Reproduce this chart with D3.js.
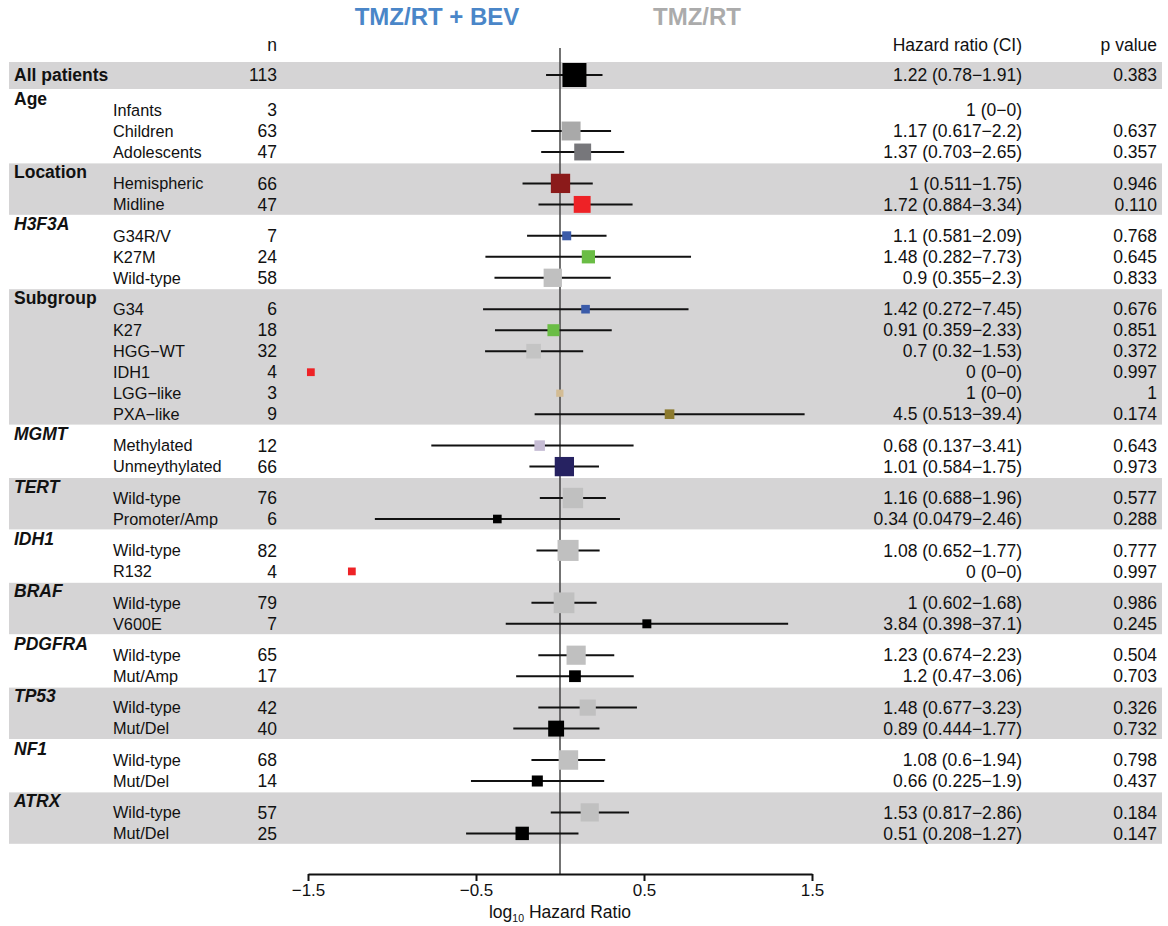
<!DOCTYPE html>
<html lang="en">
<head>
<meta charset="utf-8" />
<title>Forest plot</title>
<script src="https://d3js.org/d3.v7.min.js"></script>
<style>
  body { margin: 0; background: #fff; }
  text { font-family: "Liberation Sans", Arial, sans-serif; fill: #111; }
</style>
</head>
<body>
<div id="chart"></div>
<script>
// group headers, top to bottom
const groups = ["All patients", "Age", "Location", "H3F3A", "Subgroup", "MGMT", "TERT",
  "IDH1", "BRAF", "PDGFRA", "TP53", "NF1", "ATRX"];
const geneGroups = ["H3F3A", "MGMT", "TERT", "IDH1", "BRAF", "PDGFRA", "TP53", "NF1", "ATRX"];

// one entry per row
const rowGroup = ["All patients", "Age", "Age", "Age", "Location", "Location",
  "H3F3A", "H3F3A", "H3F3A", "Subgroup", "Subgroup", "Subgroup", "Subgroup", "Subgroup", "Subgroup",
  "MGMT", "MGMT", "TERT", "TERT", "IDH1", "IDH1", "BRAF", "BRAF", "PDGFRA", "PDGFRA",
  "TP53", "TP53", "NF1", "NF1", "ATRX", "ATRX"];
const rowLabels = ["", "Infants", "Children", "Adolescents", "Hemispheric", "Midline",
  "G34R/V", "K27M", "Wild-type", "G34", "K27", "HGG\u2212WT", "IDH1", "LGG\u2212like", "PXA\u2212like",
  "Methylated", "Unmeythylated", "Wild-type", "Promoter/Amp", "Wild-type", "R132",
  "Wild-type", "V600E", "Wild-type", "Mut/Amp", "Wild-type", "Mut/Del", "Wild-type", "Mut/Del",
  "Wild-type", "Mut/Del"];
const nValues = [113, 3, 63, 47, 66, 47, 7, 24, 58, 6, 18, 32, 4, 3, 9, 12, 66, 76, 6, 82, 4,
  79, 7, 65, 17, 42, 40, 68, 14, 57, 25];
const hrLabels = ["1.22 (0.78\u22121.91)", "1 (0\u22120)", "1.17 (0.617\u22122.2)", "1.37 (0.703\u22122.65)",
  "1 (0.511\u22121.75)", "1.72 (0.884\u22123.34)", "1.1 (0.581\u22122.09)", "1.48 (0.282\u22127.73)",
  "0.9 (0.355\u22122.3)", "1.42 (0.272\u22127.45)", "0.91 (0.359\u22122.33)", "0.7 (0.32\u22121.53)",
  "0 (0\u22120)", "1 (0\u22120)", "4.5 (0.513\u221239.4)", "0.68 (0.137\u22123.41)", "1.01 (0.584\u22121.75)",
  "1.16 (0.688\u22121.96)", "0.34 (0.0479\u22122.46)", "1.08 (0.652\u22121.77)", "0 (0\u22120)",
  "1 (0.602\u22121.68)", "3.84 (0.398\u221237.1)", "1.23 (0.674\u22122.23)", "1.2 (0.47\u22123.06)",
  "1.48 (0.677\u22123.23)", "0.89 (0.444\u22121.77)", "1.08 (0.6\u22121.94)", "0.66 (0.225\u22121.9)",
  "1.53 (0.817\u22122.86)", "0.51 (0.208\u22121.27)"];
const pLabels = ["0.383", "", "0.637", "0.357", "0.946", "0.110", "0.768", "0.645", "0.833",
  "0.676", "0.851", "0.372", "0.997", "1", "0.174", "0.643", "0.973", "0.577", "0.288",
  "0.777", "0.997", "0.986", "0.245", "0.504", "0.703", "0.326", "0.732", "0.798", "0.437",
  "0.184", "0.147"];
// log10 hazard ratio as drawn: estimate, interval ends (null = not drawn)
const logHR = [0.086, null, 0.066, 0.135, 0.003, 0.132, 0.040, 0.169, -0.043, 0.152, -0.039,
  -0.157, -1.483, -0.001, 0.652, -0.121, 0.026, 0.077, -0.373, 0.048, -1.239, 0.024, 0.517,
  0.096, 0.089, 0.165, -0.023, 0.050, -0.135, 0.177, -0.225];
const logLower = [-0.083, null, -0.171, -0.112, -0.223, -0.128, -0.196, -0.444, -0.390, -0.458,
  -0.387, -0.446, null, null, -0.151, -0.766, -0.182, -0.120, -1.102, -0.140, null, -0.170,
  -0.323, -0.129, -0.261, -0.129, -0.278, -0.170, -0.530, -0.055, -0.559];
const logUpper = [0.253, null, 0.304, 0.382, 0.195, 0.432, 0.277, 0.780, 0.302, 0.765, 0.308,
  0.138, null, null, 1.456, 0.438, 0.232, 0.273, 0.357, 0.236, null, 0.218, 1.358, 0.323,
  0.439, 0.458, 0.235, 0.269, 0.263, 0.411, 0.110];
const xTicks = [-1.5, -0.5, 0.5, 1.5];

// box fill per row (style)
const boxColors = ["#000000", "none", "#a9a9a9", "#77777b", "#8b1a1a", "#ee2226", "#3b5ba9",
  "#6abd45", "#c0c0c0", "#3b5ba9", "#6abd45", "#c4c4c4", "#ee2226", "#d3bc94", "#8c7a2e",
  "#c6bcd4", "#262261", "#c0c0c0", "#000000", "#c0c0c0", "#ee2226", "#c0c0c0", "#000000",
  "#c0c0c0", "#000000", "#c0c0c0", "#000000", "#c0c0c0", "#000000", "#c0c0c0", "#000000"];

const width = 1168, height = 926;
const svg = d3.select("#chart").append("svg")
  .attr("width", width).attr("height", height);

const x = d3.scaleLinear().domain([-1.5, 1.5]).range([308, 812]);
const boxSize = d3.scaleSqrt().domain([0, 113]).range([4, 24]);

// vertical layout of groups and rows
const rowStep = 21, firstOffset = 20, bottomPad = 11.4, headerOffset = 8.5;
const rowY = [];
const blocks = [];
let yCursor = 62;
groups.forEach(g => {
  const idx = rowGroup.map((r, i) => r === g ? i : -1).filter(i => i >= 0);
  let bottom, headerY;
  if (rowLabels[idx[0]] === "") {
    bottom = yCursor + 28;
    headerY = yCursor + 13;
    rowY[idx[0]] = headerY;
  } else {
    idx.forEach((ri, k) => { rowY[ri] = yCursor + firstOffset + k * rowStep; });
    bottom = rowY[idx[idx.length - 1]] + bottomPad;
    headerY = yCursor + headerOffset;
  }
  blocks.push({ g, y0: yCursor, y1: bottom, headerY });
  yCursor = bottom;
});

// shaded bands
svg.append("g").selectAll("rect")
  .data(blocks.filter((b, i) => i % 2 === 0))
  .join("rect")
  .attr("x", 9).attr("width", 1153)
  .attr("y", d => d.y0).attr("height", d => d.y1 - d.y0 - 1)
  .attr("fill", "#d5d4d5");

const axisY = 874;

// reference line at 0
svg.append("line")
  .attr("x1", x(0)).attr("x2", x(0))
  .attr("y1", 48).attr("y2", axisY)
  .attr("stroke", "#444").attr("stroke-width", 1.5);

const rows = d3.range(rowLabels.length);

// intervals
svg.append("g").selectAll("line")
  .data(rows.filter(i => logLower[i] !== null))
  .join("line")
  .attr("x1", i => x(logLower[i])).attr("x2", i => x(logUpper[i]))
  .attr("y1", i => rowY[i]).attr("y2", i => rowY[i])
  .attr("stroke", "#111").attr("stroke-width", 2);

// boxes
svg.append("g").selectAll("rect")
  .data(rows.filter(i => logHR[i] !== null))
  .join("rect")
  .attr("x", i => x(logHR[i]) - boxSize(nValues[i]) / 2)
  .attr("y", i => rowY[i] - boxSize(nValues[i]) / 2)
  .attr("width", i => boxSize(nValues[i]))
  .attr("height", i => boxSize(nValues[i]))
  .attr("fill", i => boxColors[i]);

const labelSize = 16.3, numSize = 17.5;

// group headers
svg.append("g").selectAll("text")
  .data(blocks)
  .join("text")
  .attr("x", 14).attr("y", d => d.headerY).attr("dy", "0.35em")
  .style("font-size", "17.5px")
  .style("font-weight", "bold")
  .style("font-style", d => geneGroups.includes(d.g) ? "italic" : "normal")
  .text(d => d.g);

// row labels and columns
const cols = [
  { x: 113, anchor: "start", size: labelSize, text: i => rowLabels[i] },
  { x: 277, anchor: "end", size: numSize, text: i => nValues[i] },
  { x: 1022, anchor: "end", size: numSize, text: i => hrLabels[i] },
  { x: 1157, anchor: "end", size: numSize, text: i => pLabels[i] }
];
cols.forEach(c => {
  svg.append("g").selectAll("text")
    .data(rows)
    .join("text")
    .attr("x", c.x).attr("y", i => rowY[i]).attr("dy", "0.35em")
    .attr("text-anchor", c.anchor)
    .style("font-size", c.size + "px")
    .text(c.text);
});

// column headers
const headers = [
  { x: 277, t: "n" }, { x: 1022, t: "Hazard ratio (CI)" }, { x: 1157, t: "p value" }
];
svg.append("g").selectAll("text")
  .data(headers)
  .join("text")
  .attr("x", d => d.x).attr("y", 45).attr("dy", "0.35em")
  .attr("text-anchor", "end")
  .style("font-size", numSize + "px")
  .text(d => d.t);

// arm titles
svg.append("text")
  .attr("x", 437).attr("y", 17).attr("dy", "0.35em")
  .attr("text-anchor", "middle")
  .style("font-size", "24px").style("font-weight", "bold")
  .style("fill", "#4a86c8")
  .text("TMZ/RT + BEV");
svg.append("text")
  .attr("x", 697).attr("y", 17).attr("dy", "0.35em")
  .attr("text-anchor", "middle")
  .style("font-size", "24px").style("font-weight", "bold")
  .style("fill", "#ababab")
  .text("TMZ/RT");

// x axis
const axis = svg.append("g")
  .attr("transform", `translate(0,${axisY})`)
  .call(d3.axisBottom(x).tickValues(xTicks).tickSize(7).tickSizeOuter(0)
    .tickFormat(d3.format(".1f")));
axis.select(".domain").attr("stroke", "#111").attr("stroke-width", 2);
axis.selectAll(".tick line").attr("stroke", "#111").attr("stroke-width", 2);
axis.selectAll(".tick text")
  .style("font-size", "17px")
  .style("font-family", "'Liberation Sans', Arial, sans-serif")
  .attr("fill", "#111");

const title = svg.append("text")
  .attr("x", x(0)).attr("y", 918)
  .attr("text-anchor", "middle")
  .style("font-size", "17.5px");
title.append("tspan").text("log");
title.append("tspan").attr("dy", 4).style("font-size", "10.5px").text("10");
title.append("tspan").attr("dy", -4).text(" Hazard Ratio");
</script>
</body>
</html>
